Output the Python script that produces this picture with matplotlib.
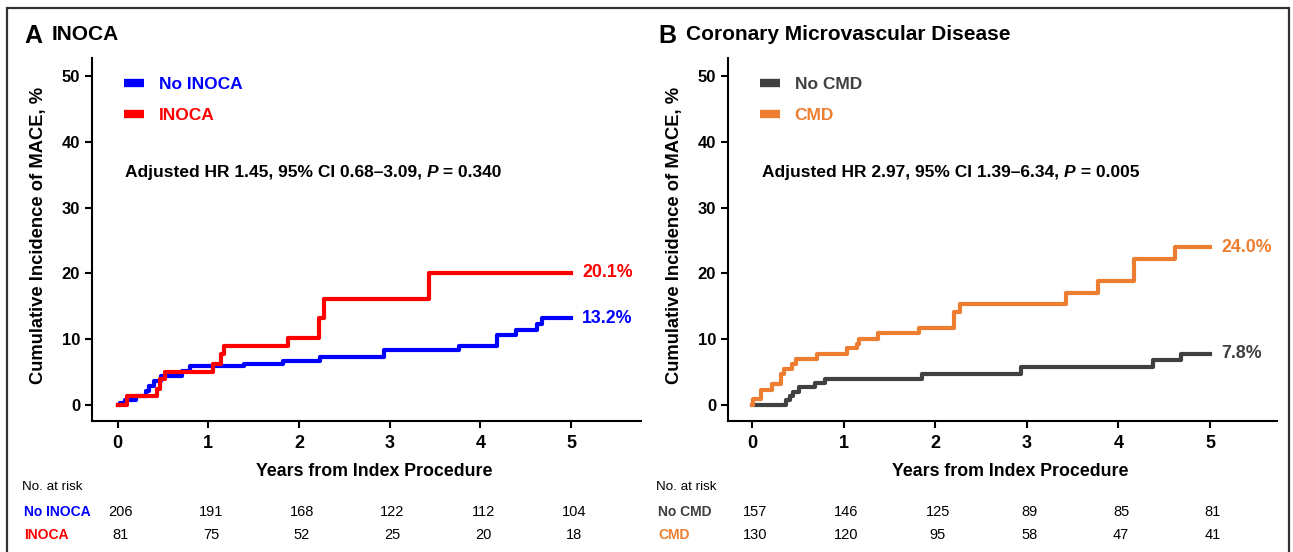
import matplotlib
matplotlib.use("Agg")
import matplotlib.pyplot as plt
import matplotlib.transforms as mtransforms
from matplotlib.patches import Rectangle

plt.rcParams['font.family'] = ['Liberation Sans', 'DejaVu Sans']

# panel A: INOCA
years = [0, 1, 2, 3, 4, 5]
a_no_t = [0, 0.03, 0.08, 0.2, 0.31, 0.35, 0.4, 0.48, 0.71, 0.8, 1.39, 1.83, 2.23, 2.94, 3.77, 4.18, 4.39, 4.63, 4.68, 5.0]
a_no_y = [0, 0.3, 0.8, 1.4, 2.2, 2.9, 3.7, 4.4, 5.2, 5.9, 6.3, 6.7, 7.3, 8.3, 9.0, 10.6, 11.4, 12.3, 13.2, 13.2]
a_yes_t = [0, 0.11, 0.44, 0.47, 0.52, 1.05, 1.14, 1.17, 1.88, 2.22, 2.28, 3.43, 5.0]
a_yes_y = [0, 1.3, 2.5, 3.9, 5.0, 6.3, 7.7, 8.9, 10.2, 13.2, 16.1, 20.1, 20.1]
a_risk_no = [206, 191, 168, 122, 112, 104]
a_risk_yes = [81, 75, 52, 25, 20, 18]

# panel B: coronary microvascular disease
b_no_t = [0.04, 0.37, 0.41, 0.45, 0.51, 0.69, 0.8, 1.86, 2.94, 4.38, 4.68, 5.0]
b_no_y = [0, 0.7, 1.4, 2.0, 2.7, 3.3, 4.0, 4.7, 5.7, 6.8, 7.8, 7.8]
b_yes_t = [0, 0.01, 0.1, 0.22, 0.32, 0.35, 0.44, 0.48, 0.71, 1.04, 1.15, 1.17, 1.38, 1.82, 2.21, 2.27, 3.43, 3.78, 4.17, 4.62, 5.0]
b_yes_y = [0, 0.9, 2.3, 3.2, 4.7, 5.5, 6.3, 7.0, 7.8, 8.6, 9.3, 10.1, 10.9, 11.7, 14.1, 15.3, 17.0, 18.8, 22.2, 24.0, 24.0]
b_risk_no = [157, 146, 125, 89, 85, 81]
b_risk_yes = [130, 120, 95, 58, 47, 41]

W, H = 1293, 552
fig = plt.figure(figsize=(W / 100, H / 100), dpi=100)


def fx(x):
    return x / W


def fy(y):
    return 1 - y / H


# outer frame (bottom edge is cut off in the original)
fig.patches.append(Rectangle((fx(7), -0.05), fx(1289) - fx(7), fy(8) + 0.05,
                             transform=fig.transFigure, fill=False,
                             edgecolor='#333333', linewidth=1.6))


def panel(left, x0px, x5px, letter, title, names, colors, curves, ends, hr, risks, text_left):
    ax = fig.add_axes([fx(left), fy(421), 549 / W, (421 - 58) / H])
    pxyr = (x5px - x0px) / 5
    ax.set_xlim((left - x0px) / pxyr, (left + 549 - x0px) / pxyr)
    ax.set_ylim(-16 / 6.58, 347 / 6.58)
    for sp in ['top', 'right']:
        ax.spines[sp].set_visible(False)
    for sp in ['left', 'bottom']:
        ax.spines[sp].set_linewidth(1.5)
    ax.set_xticks(years)
    ax.set_yticks([0, 10, 20, 30, 40, 50])
    ax.tick_params(direction='out', length=5, width=1.5)
    for lb in ax.get_yticklabels():
        lb.set_fontsize(12)
        lb.set_fontweight('bold')
    for lb in ax.get_xticklabels():
        lb.set_fontsize(13)
        lb.set_fontweight('bold')
    ax.tick_params(axis='x', pad=5)

    handles = []
    for (t, y), c, n in zip(curves, colors, names):
        h, = ax.step(t, y, where='post', color=c, linewidth=3, label=n)
        handles.append(h)
    for (t, y), c, e in zip(curves, colors, ends):
        ax.text(t[-1] + 0.12, y[-1], e, color=c, fontsize=12.8, fontweight='bold',
                va='center', ha='left')

    leg = ax.legend(handles=handles, loc='upper left', bbox_to_anchor=(0.058, 0.948),
                    frameon=False, borderaxespad=0, borderpad=0, handlelength=1.15,
                    handletextpad=0.85, labelspacing=0.9,
                    prop={'size': 12.5, 'weight': 'bold'}, labelcolor='linecolor')
    for lh in leg.legend_handles:
        lh.set_linewidth(6)
        lh.set_solid_capstyle('butt')

    # hazard ratio text with italic P
    t1 = ax.text(hr[0], 35.4, hr[1], fontsize=12.5, fontweight='bold', va='center')
    t2 = ax.annotate('P', xy=(1, 0), xycoords=t1, va='bottom', fontsize=12.5,
                     fontweight='bold', fontstyle='italic')
    ax.annotate(' = ' + hr[2], xy=(1, 0), xycoords=t2, va='bottom', fontsize=12.5,
                fontweight='bold')

    ax.set_ylabel('Cumulative Incidence of MACE, %', fontsize=13.2, fontweight='bold')
    ax.yaxis.set_label_coords(-0.082, 0.51)
    ax.set_xlabel('Years from Index Procedure', fontsize=12.8, fontweight='bold')
    ax.xaxis.set_label_coords(0.515, -0.116)

    fig.text(fx(text_left - 33), fy(36), letter, fontsize=18, fontweight='bold', va='center')
    fig.text(fx(text_left - 5), fy(34), title, fontsize=15, fontweight='bold', va='center')

    # number at risk table
    tr = mtransforms.blended_transform_factory(ax.transData, fig.transFigure)
    fig.text(fx(text_left - 35), fy(487), 'No. at risk', fontsize=9.6, va='center')
    for row, (vals, c, n) in enumerate(zip(risks, colors, names)):
        yy = fy(512 + 23 * row)
        fig.text(fx(text_left - 33), yy, n, color=c, fontsize=10, fontweight='bold',
                 va='center')
        for x, v in zip(years, vals):
            ax.text(x + 0.03, yy, str(v), transform=tr, ha='center', va='center',
                    fontsize=10.5)
    return ax


panel(92, 117.5, 571, 'A', 'INOCA', ['No INOCA', 'INOCA'], ['#0000FF', '#FF0000'],
      [(a_no_t, a_no_y), (a_yes_t, a_yes_y)], ['13.2%', '20.1%'],
      (0.08, 'Adjusted HR 1.45, 95% CI 0.68\u20133.09, ', '0.340'),
      [a_risk_no, a_risk_yes], 57)
panel(728, 752, 1210, 'B', 'Coronary Microvascular Disease', ['No CMD', 'CMD'],
      ['#404040', '#ED7D31'],
      [(b_no_t, b_no_y), (b_yes_t, b_yes_y)], ['7.8%', '24.0%'],
      (0.11, 'Adjusted HR 2.97, 95% CI 1.39\u20136.34, ', '0.005'),
      [b_risk_no, b_risk_yes], 691)

fig.savefig('out.png', dpi=100)
